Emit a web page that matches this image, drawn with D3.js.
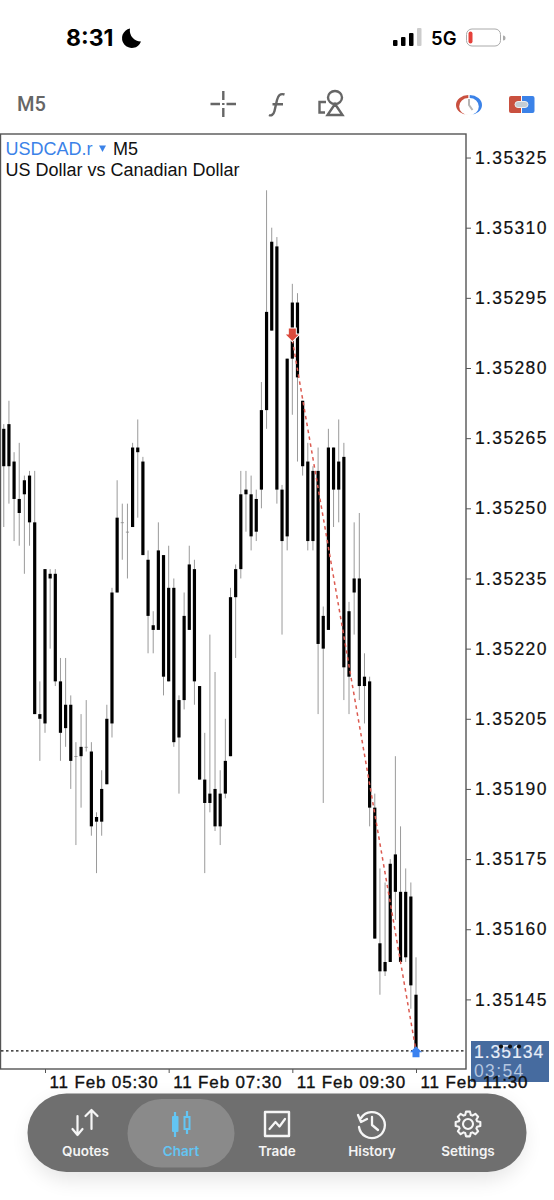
<!DOCTYPE html>
<html>
<head>
	<title>USDCAD.r M5</title>
	<meta charset="utf-8">
	<style type="text/css">
	html,body{
		margin:0;
		background:#fff;
	}
	svg{
		display:block;
		font-family:"Liberation Sans",sans-serif;
	}
	.price-axis text{
		font-size:17.5px;
		letter-spacing:1.35px;
		fill:#111;
		stroke:#111;
		stroke-width:.2px;
	}
	.time-axis text{
		font-size:17px;
		letter-spacing:.85px;
		fill:#111;
		stroke:#111;
		stroke-width:.35px;
	}
	.price-axis line,.time-axis line{
		stroke:#555;
	}
	.nav-label{
		font-family:"Inter",sans-serif;
		font-size:13.5px;
		font-weight:600;
		text-anchor:middle;
		fill:#f4f4f4;
	}
	</style>
	<script type="text/javascript" src="https://cdn.jsdelivr.net/npm/d3@7"></script>
</head>
<body>
<script type="text/javascript">
	var width = 554;
	var height = 1200;

	//candles, every candle is black so only the body edges are known
	var firstCandle = new Date(2025, 1, 11, 4, 50);
	var highs = [
		1.35268,1.35273,1.35262,1.35264,1.35257,1.35258,1.35258,1.35213,1.35237,1.35237,
		1.35237,1.35218,1.35218,1.35210,1.35200,1.35206,1.35209,1.35200,1.35185,1.35194,
		1.35208,1.35233,1.35256,1.35251,1.35251,1.35264,1.35269,1.35261,1.35241,1.35228,
		1.35247,1.35240,1.35242,1.35235,1.35210,1.35232,1.35242,1.35239,1.35212,1.35202,
		1.35223,1.35215,1.35194,1.35205,1.35233,1.35238,1.35258,1.35258,1.35257,1.35254,
		1.35277,1.35318,1.35310,1.35308,1.35255,1.35282,1.35298,1.35296,1.35273,1.35264,
		1.35259,1.35263,1.35229,1.35267,1.35263,1.35269,1.35264,1.35230,1.35247,1.35249,
		1.35219,1.35214,1.35189,1.35173,1.35170,1.35175,1.35197,1.35182,1.35173,1.35170,
		1.35154];
	var bodyTops = [
		1.35267,1.35268,1.35260,1.35252,1.35256,1.35257,1.35247,1.35206,1.35237,1.35236,
		1.35236,1.35213,1.35208,1.35208,1.35197,1.35199,1.35199,1.35198,1.35184,1.35190,
		1.35205,1.35232,1.35248,1.35247,1.35245,1.35263,1.35263,1.35260,1.35239,1.35225,
		1.35241,1.35240,1.35233,1.35233,1.35209,1.35227,1.35238,1.35237,1.35212,1.35192,
		1.35189,1.35190,1.35189,1.35196,1.35231,1.35237,1.35253,1.35254,1.35253,1.35252,
		1.35271,1.35292,1.35307,1.35306,1.35254,1.35282,1.35294,1.35294,1.35273,1.35260,
		1.35258,1.35258,1.35227,1.35263,1.35263,1.35260,1.35261,1.35228,1.35235,1.35235,
		1.35214,1.35213,1.35186,1.35157,1.35153,1.35174,1.35176,1.35168,1.35168,1.35167,
		1.35146];
	var bodyBottoms = [
		1.35259,1.35259,1.35252,1.35249,1.35253,1.35247,1.35206,1.35205,1.35204,1.35235,
		1.35213,1.35202,1.35203,1.35196,1.35197,1.35197,1.35199,1.35182,1.35183,1.35183,
		1.35191,1.35204,1.35232,1.35247,1.35245,1.35246,1.35262,1.35240,1.35227,1.35224,
		1.35224,1.35214,1.35213,1.35200,1.35201,1.35209,1.35224,1.35213,1.35192,1.35187,
		1.35187,1.35182,1.35182,1.35189,1.35197,1.35231,1.35237,1.35253,1.35244,1.35245,
		1.35254,1.35271,1.35288,1.35254,1.35243,1.35244,1.35282,1.35278,1.35259,1.35243,
		1.35243,1.35221,1.35220,1.35224,1.35254,1.35254,1.35216,1.35214,1.35232,1.35212,
		1.35212,1.35186,1.35158,1.35151,1.35151,1.35153,1.35168,1.35153,1.35154,1.35148,
		1.35134];
	var lows = [
		1.35246,1.35251,1.35243,1.35242,1.35236,1.35242,1.35206,1.35196,1.35202,1.35220,
		1.35212,1.35196,1.35199,1.35190,1.35178,1.35186,1.35198,1.35180,1.35172,1.35180,
		1.35191,1.35201,1.35232,1.35239,1.35235,1.35246,1.35248,1.35240,1.35219,1.35219,
		1.35224,1.35210,1.35213,1.35199,1.35189,1.35207,1.35224,1.35208,1.35192,1.35172,
		1.35185,1.35181,1.35178,1.35188,1.35197,1.35218,1.35235,1.35245,1.35241,1.35243,
		1.35250,1.35267,1.35288,1.35251,1.35223,1.35241,1.35270,1.35260,1.35257,1.35241,
		1.35241,1.35206,1.35187,1.35224,1.35246,1.35247,1.35209,1.35206,1.35223,1.35209,
		1.35204,1.35182,1.35158,1.35146,1.35150,1.35153,1.35162,1.35153,1.35153,1.35143,
		1.35134];

	var priceTicks = [1.35325,1.35310,1.35295,1.35280,1.35265,1.35250,1.35235,1.35220,1.35205,1.35190,1.35175,1.35160,1.35145];
	var timeTicks = [new Date(2025,1,11,5,30), new Date(2025,1,11,7,30), new Date(2025,1,11,9,30), new Date(2025,1,11,11,30)];

	//sell arrow -> buy arrow of the closed trade
	var tradeTimes = [new Date(2025,1,11,9,30), new Date(2025,1,11,11,30)];
	var tradePrices = [1.35286, 1.35134];
	var bid = 1.35134;

	var navLabels = ["Quotes","Chart","Trade","History","Settings"];
	var navX = [85.5,181,277,372,468];

	var frame = {left:.5, right:466, top:134, bottom:1069};

	var svg = d3.select("body")
				.append("svg")
				.attr("width", width)
				.attr("height", height);

	var x = d3.scaleTime()
			.domain([timeTicks[0], timeTicks[3]])
			.range([45, 416]);
	var y = d3.scaleLinear()
			.domain([1.35310, 1.35145])
			.range([227.7, 999.4]);

	var candleTime = function(i){ return d3.timeMinute.offset(firstCandle, i*5); };

	//---------chart frame---------
	svg.append("rect")
		.attr("x", frame.left).attr("y", frame.top)
		.attr("width", frame.right-frame.left).attr("height", frame.bottom-frame.top)
		.attr("fill", "#fff").attr("stroke", "#555").attr("stroke-width", 1.4);

	//---------candles---------
	var candles = svg.append("g")
				.attr("class", "candles")
				.selectAll("g")
				.data(highs)
				.enter()
				.append("g");

	candles.append("line")
			.attr("x1", function(d,i){return x(candleTime(i));})
			.attr("x2", function(d,i){return x(candleTime(i));})
			.attr("y1", function(d){return y(d);})
			.attr("y2", function(d,i){return y(lows[i]);})
			.attr("stroke", "#9a9a9a")
			.attr("stroke-width", 1);

	candles.append("rect")
			.attr("x", function(d,i){return x(candleTime(i))-1.6;})
			.attr("width", 3.2)
			.attr("y", function(d,i){return y(bodyTops[i]);})
			.attr("height", function(d,i){return Math.max(y(bodyBottoms[i])-y(bodyTops[i]), .8);})
			.attr("fill", function(d,i){return bodyTops[i]==bodyBottoms[i] ? "#888" : "#000";});

	//---------bid line---------
	svg.append("line")
		.attr("x1", 1).attr("x2", frame.right)
		.attr("y1", y(bid)).attr("y2", y(bid))
		.attr("stroke", "#111")
		.attr("stroke-width", 1.2)
		.attr("stroke-dasharray", "2.5 2.5");

	//---------trade line and arrows---------
	svg.append("path")
		.datum(tradeTimes)
		.attr("d", d3.line()
			.x(function(d){return x(d);})
			.y(function(d,i){return y(tradePrices[i]);}))
		.attr("stroke", "#dc5a50")
		.attr("stroke-width", 1.5)
		.attr("stroke-dasharray", "3.5 3.5")
		.attr("fill", "none");

	svg.append("path")
		.attr("transform", "translate(" + x(tradeTimes[0]) + "," + (y(tradePrices[0])+1) + ")")
		.attr("d", "M0,0 L-6.5,-6.5 L-3.5,-6.5 L-3.5,-12.5 L3.5,-12.5 L3.5,-6.5 L6.5,-6.5 Z")
		.attr("fill", "#dc4a3c")
		.attr("stroke", "#fff")
		.attr("stroke-width", 2)
		.attr("paint-order", "stroke");

	svg.append("path")
		.attr("transform", "translate(" + x(tradeTimes[1]) + "," + (y(tradePrices[1])-4.5) + ")")
		.attr("d", "M0,0 L6,6 L3.5,6 L3.5,11 L-3.5,11 L-3.5,6 L-6,6 Z")
		.attr("fill", "#3b82f0");

	//---------axes---------
	var priceAxis = d3.axisRight(y)
				.tickValues(priceTicks)
				.tickSize(5)
				.tickPadding(4)
				.tickFormat(d3.format(".5f"));
	var pa = svg.append("g")
		.attr("class", "price-axis")
		.attr("transform", "translate(" + frame.right + ",0)")
		.call(priceAxis);
	pa.select(".domain").remove();

	//current price box goes under the time labels
	svg.append("rect")
		.attr("x", 471).attr("y", 1041).attr("width", 78).attr("height", 41)
		.attr("fill", "#466b9f");
	svg.append("text")
		.attr("x", 474).attr("y", 1057.5)
		.attr("font-size", 17.5).attr("letter-spacing", 1)
		.attr("fill", "#e8eef8")
		.attr("stroke", "#e8eef8").attr("stroke-width", .2)
		.text(d3.format(".5f")(bid));
	svg.append("text")
		.attr("x", 474).attr("y", 1076.5)
		.attr("font-size", 17.5).attr("letter-spacing", 1.35)
		.attr("fill", "#b4c6e0")
		.text("03:54");
	svg.selectAll(".box-dot")
		.data([501,510,519])
		.enter()
		.append("circle")
		.attr("cx", function(d){return d;})
		.attr("cy", 1046.5)
		.attr("r", 2.1)
		.attr("fill", "#111");

	var timeAxis = d3.axisBottom(x)
				.tickValues(timeTicks)
				.tickSize(4)
				.tickFormat(d3.timeFormat("%d %b %H:%M"));
	var ta = svg.append("g")
		.attr("class", "time-axis")
		.attr("transform", "translate(0," + frame.bottom + ")")
		.call(timeAxis);
	ta.select(".domain").remove();
	ta.selectAll("text")
		.attr("text-anchor", "start")
		.attr("x", 4)
		.attr("y", 5)
		.attr("dy", "14px");

	//---------legend---------
	svg.append("text").attr("x", 5.5).attr("y", 154.5).attr("font-size", 18).attr("fill", "#3b82e8").text("USDCAD.r");
	svg.append("path").attr("d", "M99,145.5 L106,145.5 L102.5,152 Z").attr("fill", "#3b82e8");
	svg.append("text").attr("x", 113).attr("y", 154.5).attr("font-size", 18).attr("fill", "#111").text("M5");
	svg.append("text").attr("x", 5.5).attr("y", 176).attr("font-size", 18).attr("fill", "#111").text("US Dollar vs Canadian Dollar");

	//---------status bar---------
	svg.append("text").attr("x", 66).attr("y", 45.5).attr("font-family", "Inter").attr("font-weight", 700).attr("font-size", 23).attr("fill", "#000").text("8:31");
	svg.append("path").attr("d", "M130,28.5 A9.8,9.8 0 1 0 141,41.5 A11,11 0 0 1 130,28.5 Z").attr("fill", "#000");
	svg.selectAll(".signal")
		.data([[393,6],[401,9],[409,13],[417,18]])
		.enter()
		.append("rect")
		.attr("x", function(d){return d[0];})
		.attr("y", function(d){return 46-d[1];})
		.attr("width", 4.5)
		.attr("height", function(d){return d[1];})
		.attr("rx", 1)
		.attr("fill", function(d,i){return i==3 ? "#ccc" : "#000";});
	svg.append("text").attr("x", 431).attr("y", 45).attr("font-family", "Inter").attr("font-weight", 600).attr("font-size", 18.5).attr("fill", "#000").text("5G");
	svg.append("rect").attr("x", 466.5).attr("y", 29).attr("width", 34).attr("height", 17).attr("rx", 5.5).attr("fill", "none").attr("stroke", "#aaa").attr("stroke-width", 1);
	svg.append("rect").attr("x", 468.5).attr("y", 31.5).attr("width", 4).attr("height", 12).attr("rx", 2).attr("fill", "#e5413a");
	svg.append("path").attr("d", "M503,35.5 a2.5,2.5 0 0 1 0,5 Z").attr("fill", "#aaa");

	//---------toolbar---------
	svg.append("text").attr("x", 17).attr("y", 111).attr("font-family", "Roboto").attr("font-weight", 500).attr("font-size", 20).attr("fill", "#666").text("M5");
	svg.append("path")
		.attr("d", "M210.5,104 h9.5 M226.5,104 h9.5 M223.3,91 v9 M223.3,108 v9 M223.3,103 v2")
		.attr("stroke", "#666").attr("stroke-width", 2.4).attr("fill", "none");
	svg.append("path")
		.attr("d", "M284.5,94.5 C280,93 278,96 277,100 L274.5,111 C273.5,115 271,116 269,115 M272.5,104.3 H283")
		.attr("stroke", "#666").attr("stroke-width", 2.4).attr("fill", "none");
	svg.append("path")
		.attr("d", "M326,102 h-6.5 v10.5 h5.5 M342,97.5 a7,6.5 0 1 0 -14,0 a7,6.5 0 1 0 14,0 M335,104 l-7.5,11 h15 Z")
		.attr("stroke", "#666").attr("stroke-width", 2.4).attr("fill", "none");

	svg.append("path").attr("d", "M468.3,95 A12.3,10 0 0 0 468.3,115 A7.5,7 0 0 1 468.3,98 Z").attr("fill", "#c9503f");
	svg.append("path").attr("d", "M469.7,95 A12.3,10 0 0 1 469.7,115 A7.5,7 0 0 0 469.7,98 Z").attr("fill", "#3b82e8");
	svg.append("path").attr("d", "M469,99 V105 L472.5,110").attr("stroke", "#b5b5b5").attr("stroke-width", 2).attr("fill", "none");

	svg.append("path").attr("d", "M511,96 h10 v17 h-10 a2,2 0 0 1 -2,-2 v-13 a2,2 0 0 1 2,-2 Z").attr("fill", "#c9503f");
	svg.append("path").attr("d", "M522,96 h10.5 a2,2 0 0 1 2,2 v13 a2,2 0 0 1 -2,2 h-10.5 Z").attr("fill", "#3b82e8");
	svg.append("rect").attr("x", 515).attr("y", 101.5).attr("width", 13).attr("height", 6).attr("rx", 3).attr("fill", "#c4ccd4").attr("stroke", "#eee").attr("stroke-width", 1);

	//---------bottom nav---------
	var defs = svg.append("defs");
	var blur = defs.append("filter").attr("id", "soft").attr("x", "-10%").attr("y", "-30%").attr("width", "120%").attr("height", "170%");
	blur.append("feGaussianBlur").attr("stdDeviation", 10);

	svg.append("rect").attr("x", 30).attr("y", 1100).attr("width", 494).attr("height", 80).attr("rx", 40)
		.attr("fill", "#000").attr("opacity", .1).attr("filter", "url(#soft)");
	svg.append("rect").attr("x", 27.5).attr("y", 1093.5).attr("width", 499).attr("height", 78.5).attr("rx", 39)
		.attr("fill", "#6f6f6f");
	svg.append("rect").attr("x", 127.5).attr("y", 1099).attr("width", 107).attr("height", 68.5).attr("rx", 34)
		.attr("fill", "#8a8a8a");

	svg.selectAll(".nav-label")
		.data(navLabels)
		.enter()
		.append("text")
		.attr("class", "nav-label")
		.attr("x", function(d,i){return navX[i];})
		.attr("y", 1155.5)
		.style("fill", function(d){return d=="Chart" ? "#63c5f3" : null;})
		.text(function(d){return d;});

	var white = "#f6f6f6", blue = "#63c5f3";
	var icon = function(ix, d, col, w, fill){
		svg.append("path")
			.attr("transform", "translate(" + navX[ix] + ",1124)")
			.attr("d", d)
			.attr("stroke", col)
			.attr("stroke-width", w)
			.attr("stroke-linecap", "round")
			.attr("stroke-linejoin", "round")
			.attr("fill", fill || "none");
	};
	//quotes: down and up arrows
	icon(0, "M-8,-8 V11 M-13,5 L-8,11 L-3,5 M6,-14 V5 M0,-8 L6,-14 L12,-8", white, 2.2);
	//chart: two candles
	svg.append("path")
		.attr("transform", "translate(181,1124)")
		.attr("d", "M-6,-12 V13 M6,-13 V10")
		.attr("stroke", blue).attr("stroke-width", 2.2);
	svg.append("rect").attr("x", 172).attr("y", 1116).attr("width", 6.5).attr("height", 16).attr("rx", 1).attr("fill", blue);
	svg.append("rect").attr("x", 184.5).attr("y", 1117).attr("width", 5).attr("height", 12).attr("fill", "#8a8a8a").attr("stroke", blue).attr("stroke-width", 2);
	//trade: framed line
	icon(2, "M-12,-12 H12 V12 H-12 Z", white, 2.4);
	icon(2, "M-7.5,5 L-1.5,-2 L2.5,2.5 L8,-5", white, 2.2);
	//history: clock with back arrow
	icon(3, "M-11,-6 A13,13 0 1 1 -13,3 M-14,-9 L-11,-2 L-5,-5 M0,-7 V1 L6,6", white, 2.3);
	//settings: gear from a little ring of teeth
	var teeth = d3.range(8).map(function(k){
		var a = k*Math.PI/4;
		var p = function(r,da){return [r*Math.cos(a+da), r*Math.sin(a+da)];};
		return "L"+p(9.5,-.3)+" L"+p(12.5,-.16)+" L"+p(12.5,.16)+" L"+p(9.5,.3);
	}).join(" ");
	icon(4, "M" + teeth.slice(1) + " Z", white, 2.1);
	icon(4, "M5,0 A5,5 0 1 1 -5,0 A5,5 0 1 1 5,0", white, 2.1);
</script>
</body>
</html>
